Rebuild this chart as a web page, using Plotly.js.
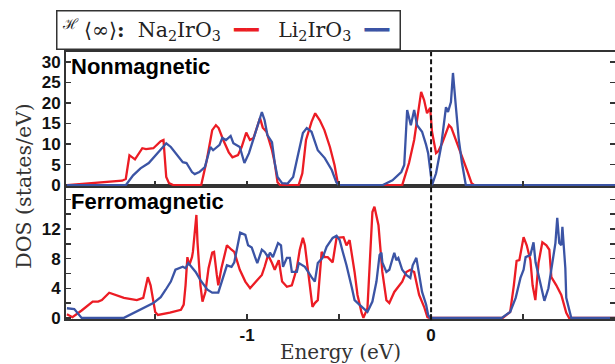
<!DOCTYPE html>
<html>
<head>
<meta charset="utf-8">
<script src="https://cdn.plot.ly/plotly-3.0.1.min.js"></script>
<style>html,body{margin:0;padding:0;background:#fff;}#chart{width:615px;height:364px;}</style>
</head>
<body>
<div id="chart"></div>
<script>
// ---- Nonmagnetic (top panel) ----
var nmNaE = [-1.98,-1.95,-1.85,-1.75,-1.68,-1.66,-1.64,-1.61,-1.57,-1.55,-1.51,-1.47,-1.455,-1.44,-1.425,-1.40,-1.25,-1.22,-1.19,-1.17,-1.155,-1.13,-1.10,-1.08,-1.05,-1.03,-1.005,-0.985,-0.965,-0.93,-0.915,-0.895,-0.865,-0.85,-0.835,-0.82,-0.72,-0.70,-0.68,-0.65,-0.63,-0.605,-0.58,-0.55,-0.525,-0.51,-0.50,-0.157,-0.12,-0.092,-0.054,-0.038,-0.022,-0.005,0.005,0.027,0.04,0.06,0.097,0.11,0.14,0.168,0.195,0.22,0.235,1.0];
var nmNaD = [0,0.1,0.6,0.9,1.1,1.5,7.3,6.3,9.0,8.8,9.0,10.7,11.0,2.0,0.5,0,0,6.0,13.4,14.6,13.9,11.0,8.0,6.8,7.3,9.3,12.8,11.0,11.5,16.3,14.0,13.0,8.5,5.4,0.7,0,0,2.9,11.0,15.4,17.5,15.8,13.4,9.3,4.9,1.2,0,0,5.4,11.0,22.7,20.7,17.5,18.8,13.0,7.8,8.3,10.2,14.6,14.0,10.5,7.3,3.7,0.5,0,0];

var nmLiE = [-1.98,-1.66,-1.62,-1.58,-1.535,-1.49,-1.44,-1.415,-1.38,-1.35,-1.33,-1.30,-1.285,-1.26,-1.23,-1.20,-1.185,-1.15,-1.135,-1.115,-1.09,-1.075,-1.04,-1.015,-0.99,-0.957,-0.92,-0.905,-0.89,-0.865,-0.85,-0.835,-0.81,-0.78,-0.75,-0.724,-0.697,-0.676,-0.65,-0.616,-0.578,-0.54,-0.515,-0.50,-0.265,-0.21,-0.162,-0.146,-0.13,-0.11,-0.092,-0.076,-0.049,-0.027,-0.016,0,0.005,0.027,0.054,0.081,0.092,0.108,0.119,0.135,0.151,0.168,0.189,1.0];
var nmLiD = [0,0,2.4,4.1,5.4,7.8,10.2,9.3,7.3,5.6,5.4,3.2,2.7,3.2,4.4,9.3,8.5,9.8,11.5,11.0,12.0,10.2,9.3,5.4,7.8,12.7,17.8,15.8,12.2,10.5,5.4,2.0,0.5,0.4,2.0,7.3,12.7,13.9,13.0,8.5,6.6,3.7,0.7,0,0,1.2,3.2,4.9,18.3,14.6,18.3,14.6,13.0,9.8,7.8,2.0,0,2.9,9.3,19.0,17.8,20.2,27.3,19.0,11.0,5.4,0,0];

// ---- Ferromagnetic (bottom panel) ----
var fmNaE = [-1.98,-1.95,-1.90,-1.84,-1.81,-1.79,-1.75,-1.72,-1.67,-1.60,-1.565,-1.54,-1.525,-1.50,-1.485,-1.42,-1.36,-1.345,-1.335,-1.325,-1.315,-1.30,-1.295,-1.276,-1.27,-1.254,-1.243,-1.227,-1.21,-1.19,-1.18,-1.165,-1.157,-1.14,-1.11,-1.085,-1.07,-1.04,-1.01,-0.984,-0.95,-0.92,-0.905,-0.886,-0.865,-0.85,-0.84,-0.828,-0.81,-0.784,-0.757,-0.73,-0.714,-0.697,-0.686,-0.676,-0.66,-0.645,-0.632,-0.616,-0.595,-0.578,-0.562,-0.535,-0.514,-0.497,-0.476,-0.46,-0.443,-0.416,-0.40,-0.378,-0.368,-0.346,-0.33,-0.319,-0.308,-0.297,-0.286,-0.265,-0.243,-0.227,-0.20,-0.157,-0.135,-0.113,-0.092,-0.065,-0.038,-0.02,-0.01,0.39,0.43,0.45,0.465,0.48,0.503,0.52,0.54,0.552,0.567,0.584,0.605,0.627,0.643,0.654,0.681,0.708,0.735,0.75,1.0];
var fmNaD = [0.5,0.1,1.0,2.2,2.2,2.4,3.4,3.1,2.7,2.4,2.7,5.5,4.4,0.8,0.4,0.7,1.1,1.8,4.4,8.2,7.1,8.2,8.9,13.9,10.2,4.4,2.2,3.5,6.7,8.8,8.9,5.8,4.4,6.7,9.8,9.2,8.9,6.5,4.9,4.0,4.9,5.8,6.9,8.5,7.4,6.5,7.1,7.8,4.9,4.2,4.4,6.7,9.2,10.8,9.8,7.8,4.0,1.5,2.0,2.4,8.9,8.2,8.2,7.5,10.8,10.8,10.9,9.8,10.5,6.2,3.1,0.7,0,1.3,9.8,14.3,15.0,13.5,12.5,6.2,2.4,2.0,3.5,4.9,6.2,6.5,6.2,3.1,1.5,0.1,0,0,0.8,4.4,7.7,7.8,10.9,9.8,7.8,4.4,2.4,7.4,10.2,9.8,9.2,5.5,4.4,3.1,0.7,0,0];

var fmLiE = [-1.98,-1.94,-1.90,-1.67,-1.51,-1.47,-1.443,-1.415,-1.39,-1.35,-1.335,-1.32,-1.28,-1.254,-1.216,-1.19,-1.157,-1.13,-1.11,-1.085,-1.07,-1.038,-1.01,-0.995,-0.975,-0.957,-0.945,-0.92,-0.905,-0.886,-0.876,-0.86,-0.832,-0.816,-0.805,-0.784,-0.768,-0.757,-0.73,-0.719,-0.686,-0.65,-0.632,-0.616,-0.59,-0.568,-0.535,-0.514,-0.497,-0.48,-0.46,-0.432,-0.416,-0.39,-0.362,-0.346,-0.319,-0.297,-0.28,-0.27,-0.265,-0.243,-0.227,-0.20,-0.189,-0.178,-0.157,-0.135,-0.113,-0.10,-0.08,-0.065,-0.049,-0.027,-0.016,-0.005,0.384,0.43,0.46,0.486,0.503,0.514,0.54,0.557,0.568,0.584,0.60,0.616,0.638,0.654,0.676,0.686,0.697,0.708,0.714,0.73,0.735,0.762,1.0];
var fmLiD = [1.3,1.2,0,0,2.0,2.8,3.8,4.9,6.5,6.9,6.7,7.4,6.2,5.1,3.8,3.4,3.4,5.4,7.1,6.9,7.5,11.5,11.2,9.8,9.5,8.2,7.4,9.2,8.9,8.2,8.8,8.2,10.1,9.8,6.9,8.1,8.1,6.2,6.2,7.4,6.9,5.5,4.9,7.4,8.1,9.6,10.8,11.1,10.5,8.9,7.1,4.2,2.4,1.8,1.1,0.8,2.2,4.9,8.5,8.8,7.5,6.2,6.5,8.8,7.8,8.1,6.5,5.8,5.4,7.1,8.1,6.1,3.5,1.8,0.4,0,0,0.8,2.7,5.4,6.5,8.2,8.5,10.2,7.5,5.8,3.8,2.3,4.0,6.7,10.1,13.5,10.1,9.8,12.3,6.7,2.7,0,0];

var EF = 0;
var nmTicks = [0,5,10,15,20,25,30];
var fmTicks = [0,4,8,12];
var fmMinorTicks = [2,6,10,14,16];
var xTicks = [-1,0,1];
var xMinorTicks = [-1.5,-0.5,0.5];

var RED = '#ec1c24', BLUE = '#3b54a5', FRAME = '#333333';
var tickFont = {family:'Liberation Sans, Arial, sans-serif', size:17, color:'#111', weight:'bold'};
var serif = 'DejaVu Serif, serif';
var minorStyle = {ticks:'inside', ticklen:5, tickwidth:1.5, tickcolor:FRAME, showgrid:false};

var traces = [
  {x:nmNaE, y:nmNaD, xaxis:'x2', yaxis:'y2', mode:'lines', line:{color:RED, width:2.3}, name:'Na2IrO3'},
  {x:nmLiE, y:nmLiD, xaxis:'x2', yaxis:'y2', mode:'lines', line:{color:BLUE, width:2.3}, name:'Li2IrO3'},
  {x:fmNaE, y:fmNaD, xaxis:'x', yaxis:'y', mode:'lines', line:{color:RED, width:2.3}, name:'Na2IrO3'},
  {x:fmLiE, y:fmLiD, xaxis:'x', yaxis:'y', mode:'lines', line:{color:BLUE, width:2.3}, name:'Li2IrO3'}
];

var xbase = {range:[-1.985,1.0], showgrid:false, zeroline:false, showline:true, mirror:true,
  linecolor:FRAME, linewidth:2, ticks:'inside', ticklen:5, tickwidth:1.5, tickcolor:FRAME,
  tickmode:'array', tickvals:xTicks, ticktext:['-1','0','1'], tickfont:tickFont,
  minor:Object.assign({tickmode:'array', tickvals:xMinorTicks}, minorStyle)};
var ybase = {showgrid:false, zeroline:false, showline:true, mirror:'ticks',
  linecolor:FRAME, linewidth:2, ticks:'inside', ticklen:5, tickwidth:1.5, tickcolor:FRAME, tickfont:tickFont};

var layout = {
  width:615, height:364, showlegend:false,
  paper_bgcolor:'#fff', plot_bgcolor:'#fff',
  margin:{l:66, r:0, t:52, b:45},
  xaxis: Object.assign({}, xbase, {anchor:'y', domain:[0,1],
    title:{text:'Energy (eV)', font:{family:serif, size:20, color:'#333'}, standoff:4}}),
  xaxis2: Object.assign({}, xbase, {anchor:'y2', domain:[0,1], matches:'x', showticklabels:false}),
  yaxis: Object.assign({}, ybase, {anchor:'x', domain:[0,0.498], range:[-0.15,17.8],
    tickmode:'array', tickvals:fmTicks,
    minor:Object.assign({tickmode:'array', tickvals:fmMinorTicks}, minorStyle)}),
  yaxis2: Object.assign({}, ybase, {anchor:'x2', domain:[0.498,1], range:[-0.2,32.4],
    tickmode:'array', tickvals:nmTicks}),
  shapes:[{type:'line', xref:'x', yref:'paper', x0:EF, x1:EF, y0:-0.005, y1:1,
    line:{color:'#111', width:2, dash:'5px,3px'}}],
  annotations:[
    {text:'DOS (states/eV)', xref:'paper', yref:'paper', x:-0.078, y:0.5, textangle:-90,
     showarrow:false, xanchor:'center', yanchor:'middle', font:{family:serif, size:20.5, color:'#333'}},
    {text:'Nonmagnetic', xref:'paper', yref:'paper', x:0.006, y:1, xanchor:'left', yanchor:'top',
     showarrow:false, font:{family:'Liberation Sans, Arial, sans-serif', size:22, color:'#000', weight:'bold'}},
    {text:'Ferromagnetic', xref:'paper', yref:'paper', x:0.006, y:0.496, xanchor:'left', yanchor:'top',
     showarrow:false, font:{family:'Liberation Sans, Arial, sans-serif', size:22, color:'#000', weight:'bold'}},
    {text:'<sup>ℋ</sup>&nbsp;⟨∞⟩<b>:</b>&nbsp; Na<sub>2</sub>IrO<sub>3</sub>&nbsp; <span style="color:'+RED+'">━━</span>&nbsp;&nbsp; Li<sub>2</sub>IrO<sub>3</sub>&nbsp; <span style="color:'+BLUE+'">━━</span>&nbsp;',
     xref:'paper', yref:'paper', x:-0.018, y:1.157, xanchor:'left', yanchor:'top', showarrow:false,
     font:{family:serif, size:20.5, color:'#222'}, bordercolor:FRAME, borderwidth:1.5, borderpad:4, bgcolor:'#fff'}
  ]
};

Plotly.newPlot('chart', traces, layout, {staticPlot:true, displayModeBar:false});
</script>
</body>
</html>
